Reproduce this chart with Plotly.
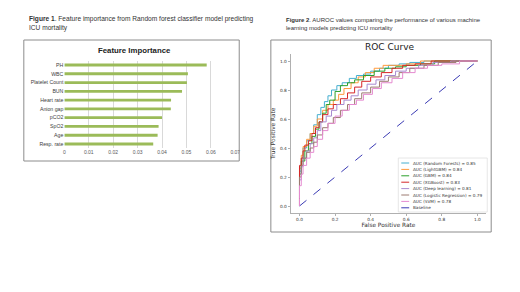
import plotly.graph_objects as go

# ---------------- data ----------------
features = ["PH", "WBC", "Platelet Count", "BUN", "Heart rate", "Anion gap",
            "pCO2", "SpO2", "Age", "Resp. rate"]
importance = [0.0583, 0.0506, 0.0502, 0.0482, 0.0437, 0.0436, 0.0400, 0.0386, 0.0382, 0.0364]
fi_ticks = [0, 0.01, 0.02, 0.03, 0.04, 0.05, 0.06, 0.07]
fi_ticklabels = ["0", "0.01", "0.02", "0.03", "0.04", "0.05", "0.06", "0.07"]

model_names = ["Random Forests", "LightGBM", "GBM", "XGBoost", "Deep learning",
               "Logistic Regression", "SVM"]
model_auc = [0.85, 0.84, 0.84, 0.83, 0.81, 0.79, 0.78]
model_colors = ["#45afd0", "#ff9a3c", "#2ca02c", "#d62728", "#a98bd0", "#9c7a70", "#e58ad0"]

rf_fpr = [0, 0, 0.01, 0.02, 0.04, 0.06, 0.08, 0.10, 0.12, 0.14, 0.16, 0.18, 0.21, 0.24, 0.28, 0.32, 0.36, 0.40, 0.45, 0.50, 0.56, 0.62, 0.70, 0.80, 1.0]
rf_tpr = [0, 0.10, 0.24, 0.33, 0.40, 0.45, 0.50, 0.56, 0.63, 0.68, 0.72, 0.76, 0.80, 0.83, 0.85, 0.88, 0.90, 0.91, 0.93, 0.95, 0.97, 0.98, 0.99, 1.0, 1.0]
lgbm_fpr = [0, 0, 0.01, 0.02, 0.04, 0.06, 0.08, 0.10, 0.13, 0.16, 0.19, 0.22, 0.25, 0.29, 0.33, 0.37, 0.42, 0.47, 0.53, 0.60, 0.68, 0.78, 1.0]
lgbm_tpr = [0, 0.12, 0.26, 0.35, 0.41, 0.46, 0.50, 0.55, 0.60, 0.66, 0.70, 0.73, 0.77, 0.81, 0.85, 0.89, 0.92, 0.95, 0.97, 0.97, 0.98, 1.0, 1.0]
gbm_fpr = [0, 0, 0.01, 0.03, 0.05, 0.07, 0.09, 0.11, 0.13, 0.15, 0.17, 0.20, 0.23, 0.27, 0.31, 0.36, 0.42, 0.48, 0.54, 0.60, 0.68, 0.76, 0.85, 1.0]
gbm_tpr = [0, 0.08, 0.22, 0.31, 0.38, 0.43, 0.48, 0.53, 0.58, 0.64, 0.70, 0.73, 0.79, 0.83, 0.85, 0.87, 0.90, 0.93, 0.95, 0.96, 0.97, 0.98, 1.0, 1.0]
xgb_fpr = [0, 0, 0.01, 0.02, 0.03, 0.05, 0.07, 0.09, 0.11, 0.13, 0.16, 0.19, 0.23, 0.27, 0.31, 0.35, 0.40, 0.46, 0.52, 0.58, 0.65, 0.74, 0.84, 1.0]
xgb_tpr = [0, 0.15, 0.28, 0.33, 0.38, 0.42, 0.45, 0.50, 0.54, 0.58, 0.63, 0.67, 0.70, 0.74, 0.78, 0.82, 0.86, 0.89, 0.92, 0.95, 0.97, 0.98, 1.0, 1.0]
dl_fpr = [0, 0, 0.01, 0.02, 0.04, 0.06, 0.08, 0.10, 0.12, 0.15, 0.18, 0.21, 0.25, 0.29, 0.33, 0.38, 0.43, 0.48, 0.54, 0.60, 0.67, 0.75, 0.85, 1.0]
dl_tpr = [0, 0.06, 0.18, 0.27, 0.33, 0.38, 0.43, 0.47, 0.52, 0.58, 0.62, 0.66, 0.70, 0.73, 0.76, 0.80, 0.84, 0.87, 0.90, 0.93, 0.95, 0.97, 0.99, 1.0]
lr_fpr = [0, 0, 0.01, 0.02, 0.04, 0.06, 0.08, 0.10, 0.13, 0.16, 0.19, 0.23, 0.27, 0.31, 0.35, 0.40, 0.45, 0.50, 0.56, 0.62, 0.70, 0.78, 0.88, 1.0]
lr_tpr = [0, 0.08, 0.20, 0.28, 0.33, 0.37, 0.40, 0.44, 0.49, 0.54, 0.57, 0.61, 0.66, 0.70, 0.74, 0.78, 0.82, 0.86, 0.89, 0.92, 0.95, 0.97, 0.99, 1.0]
svm_fpr = [0, 0, 0.01, 0.02, 0.04, 0.06, 0.08, 0.10, 0.13, 0.16, 0.20, 0.24, 0.28, 0.32, 0.36, 0.41, 0.46, 0.52, 0.58, 0.65, 0.72, 0.80, 0.90, 1.0]
svm_tpr = [0, 0.05, 0.14, 0.22, 0.28, 0.33, 0.37, 0.41, 0.46, 0.52, 0.57, 0.62, 0.66, 0.70, 0.73, 0.77, 0.81, 0.85, 0.88, 0.92, 0.95, 0.97, 0.98, 1.0]
baseline_x = [0, 1]
baseline_y = [0, 1]
roc_ticks = [0.0, 0.2, 0.4, 0.6, 0.8, 1.0]

curves = [(rf_fpr, rf_tpr), (lgbm_fpr, lgbm_tpr), (gbm_fpr, gbm_tpr), (xgb_fpr, xgb_tpr),
          (dl_fpr, dl_tpr), (lr_fpr, lr_tpr), (svm_fpr, svm_tpr)]

# ---------------- figure ----------------
# page body has an 8px default margin; figure is sized to fit inside the window
OFF = 8
W, H = 520 - 2 * OFF, 292 - 2 * OFF
def px(x): return (x - OFF) / W
def py(y): return 1 - (y - OFF) / H

XL = "Liberation Sans, Arial, sans-serif"
DJ = "DejaVu Sans, sans-serif"

fig = go.Figure()

fig.add_trace(go.Bar(y=features, x=importance, orientation="h",
                     marker=dict(color="#9bbb59", line=dict(width=0)),
                     width=0.32, xaxis="x", yaxis="y", showlegend=False))

fig.add_trace(go.Scatter(x=baseline_x, y=baseline_y, mode="lines",
                         line=dict(color="#3a3ab4", width=1, dash="dash"),
                         xaxis="x2", yaxis="y2", showlegend=False))
for (fx, ty), c in zip(curves, model_colors):
    fig.add_trace(go.Scatter(x=fx, y=ty, mode="lines", line_shape="vh",
                             line=dict(color=c, width=1),
                             xaxis="x2", yaxis="y2", showlegend=False))

fig.update_layout(
    width=W, height=H, autosize=False,
    margin=dict(l=0, r=0, t=0, b=0),
    paper_bgcolor="white", plot_bgcolor="white",
    xaxis=dict(domain=[px(64), px(237)], range=[0, 0.07], tickvals=fi_ticks,
               ticktext=fi_ticklabels, showgrid=True, gridcolor="#d9d9d9", gridwidth=1,
               zeroline=False, showline=False, ticks="",
               tickfont=dict(family=XL, size=5, color="#595959"), anchor="y"),
    yaxis=dict(domain=[py(148.4), py(60.6)], categoryorder="array",
               categoryarray=features, autorange="reversed", showgrid=False,
               zeroline=False, showline=False, ticks="",
               tickfont=dict(family=XL, size=5.2, color="#404040"), anchor="x"),
    xaxis2=dict(domain=[px(293), px(491)], range=[-0.05, 1.05], tickvals=roc_ticks,
                ticktext=[f"{v:.1f}" for v in roc_ticks], showgrid=False, zeroline=False,
                showline=True, linecolor="#b0b0b0", linewidth=1, ticks="outside",
                ticklen=2, tickcolor="#b0b0b0", tickfont=dict(family=DJ, size=4.3, color="#333"),
                title=dict(text="False Positive Rate", font=dict(family=DJ, size=5.8, color="#333"),
                           standoff=1), anchor="y2"),
    yaxis2=dict(domain=[py(213.25), py(53.75)], range=[-0.05, 1.05], tickvals=roc_ticks,
                ticktext=[f"{v:.1f}" for v in roc_ticks], showgrid=False, zeroline=False,
                showline=True, linecolor="#b0b0b0", linewidth=1, ticks="outside",
                ticklen=2, tickcolor="#b0b0b0", tickfont=dict(family=DJ, size=4.3, color="#333"),
                title=dict(text="True Positive Rate", font=dict(family=DJ, size=5.8, color="#333"),
                           standoff=3), anchor="x2"),
)

shapes = [
    dict(type="rect", xref="paper", yref="paper", x0=px(23), x1=px(241), y0=py(161), y1=py(40),
         line=dict(color="#8c8c8c", width=1)),
    dict(type="rect", xref="paper", yref="paper", x0=px(273), x1=px(496), y0=py(232), y1=py(40),
         line=dict(color="#8c8c8c", width=1)),
    dict(type="rect", xref="paper", yref="paper", x0=px(402), x1=px(492), y0=py(212), y1=py(158),
         line=dict(color="#e0e0e0", width=0.8), fillcolor="rgba(255,255,255,0.8)"),
]
annotations = [
    dict(text="<b>Figure 1</b>. Feature importance from Random forest classifier model predicting<br>ICU mortality",
         x=px(26), y=py(23.5), xref="paper", yref="paper", xanchor="left", yanchor="middle",
         align="left", showarrow=False, font=dict(family=XL, size=6.6, color="#333")),
    dict(text="<b>Figure 2</b>. AUROC values comparing the performance of various machine<br>learning models predicting ICU mortality",
         x=px(286), y=py(23.5), xref="paper", yref="paper", xanchor="left", yanchor="middle",
         align="left", showarrow=False, font=dict(family=XL, size=6.0, color="#333")),
    dict(text="<b>Feature Importance</b>", x=px(135), y=py(50), xref="paper", yref="paper",
         xanchor="center", yanchor="middle", showarrow=False,
         font=dict(family=XL, size=7.8, color="#222")),
    dict(text="ROC Curve", x=px(393), y=py(47), xref="paper", yref="paper",
         xanchor="center", yanchor="middle", showarrow=False,
         font=dict(family=DJ, size=9, color="#222")),
]

legend_labels = [f"AUC ({n}) = {a:.2f}" for n, a in zip(model_names, model_auc)] + ["Baseline"]
legend_colors = model_colors + ["#3a3ab4"]
for i, (lab, col) in enumerate(zip(legend_labels, legend_colors)):
    yy = 163 + 6.4 * i
    shapes.append(dict(type="line", xref="paper", yref="paper", x0=px(405), x1=px(413),
                       y0=py(yy), y1=py(yy),
                       line=dict(color=col, width=1, dash="dash" if lab == "Baseline" else "solid")))
    annotations.append(dict(text=lab, x=px(415), y=py(yy), xref="paper", yref="paper",
                            xanchor="left", yanchor="middle", showarrow=False,
                            font=dict(family=DJ, size=4.2, color="#333")))

fig.update_layout(shapes=shapes, annotations=annotations)
fig.write_html("out.html")
